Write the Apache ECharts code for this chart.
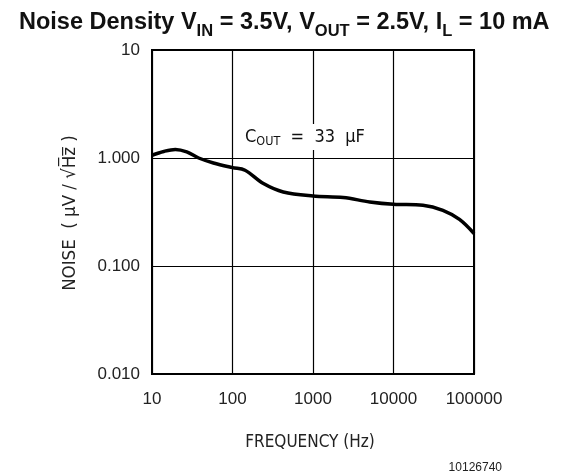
<!DOCTYPE html>
<html>
<head>
<meta charset="utf-8">
<script src="https://cdn.jsdelivr.net/npm/echarts@6/dist/echarts.min.js"></script>
<style>
html,body{margin:0;padding:0;background:#fff;}
#chart{width:566px;height:476px;}
</style>
</head>
<body>
<div id="chart"></div>
<script>
// Data
var freqHz = [10, 14, 19.5, 27, 38, 58, 100, 143, 242, 427, 1000, 2370, 5070, 10000, 23200, 41100, 66000, 100000];
var noiseDensity = [1.06, 1.15, 1.2, 1.14, 1.0, 0.90, 0.815, 0.77, 0.58, 0.485, 0.445, 0.43, 0.392, 0.373, 0.365, 0.328, 0.27, 0.2];
var xTickLabels = ['10', '100', '1000', '10000', '100000'];
var yTickLabels = {'0.01': '0.010', '0.1': '0.100', '1': '1.000', '10': '10'};

var chart = echarts.init(document.getElementById('chart'), null, {renderer: 'canvas'});
var pts = freqHz.map(function (f, i) { return [f, noiseDensity[i]]; });

var axisFont = 'Liberation Sans, Arial, sans-serif';
var nameFont = '"DejaVu Sans Condensed", "DejaVu Sans", sans-serif';

var option = {
  animation: false,
  backgroundColor: '#fff',
  title: {
    left: 14, top: 0,
    text: '{b|Noise Density V}{s|IN}{b| = 3.5V, V}{s|OUT}{b| = 2.5V, I}{s|L}{b| = 10 mA}',
    textStyle: {
      rich: {
        b: {fontSize: 23.5, fontWeight: 'bold', fontFamily: axisFont, color: '#111', lineHeight: 30, verticalAlign: 'bottom'},
        s: {fontSize: 16.5, fontWeight: 'bold', fontFamily: axisFont, color: '#111', lineHeight: 24, verticalAlign: 'bottom', padding: [0,0,-5,0]}
      }
    }
  },
  grid: {left: 152, right: 92, top: 50, bottom: 102, show: true, borderColor: '#000', borderWidth: 2, containLabel: false},
  xAxis: {
    type: 'log', logBase: 10, min: 10, max: 100000,
    axisLine: {show: false},
    axisTick: {show: false},
    minorTick: {show: false},
    splitLine: {show: true, lineStyle: {color: '#000', width: 1.2}},
    axisLabel: {
      margin: 17, fontSize: 17, color: '#222', fontFamily: axisFont,
      formatter: function (v) { var i = Math.round(Math.log10(v)) - 1; return xTickLabels[i] || ''; }
    }
  },
  yAxis: {
    type: 'log', logBase: 10, min: 0.01, max: 10,
    axisLine: {show: false},
    axisTick: {show: false},
    splitLine: {show: true, lineStyle: {color: '#000', width: 1.2}},
    axisLabel: {
      margin: 12, fontSize: 17, color: '#222', fontFamily: axisFont,
      formatter: function (v) { var k = String(Math.round(Math.log10(v))); var m = {'-2':'0.01','-1':'0.1','0':'1','1':'10'}; return yTickLabels[m[k]] || ''; }
    }
  },
  series: [{
    type: 'line', data: pts, smooth: 0.35, symbol: 'none',
    lineStyle: {color: '#000', width: 3.5}
  }],
  graphic: [
    {
      type: 'text', left: 241, top: 124, z: 100,
      style: {
        rich: {
          n: {fontSize: 18, fontFamily: nameFont, fill: '#111'},
          sub: {fontSize: 12.5, fontFamily: nameFont, fill: '#111', padding: [9,0,0,0]}
        },
        text: '{n|C}{sub|OUT}{n|  =  33  µF}',
        backgroundColor: '#fff', padding: [2, 4, 2, 4]
      }
    },
    {
      type: 'text', x: 70, y: 213, rotation: Math.PI / 2, z: 100,
      style: {text: 'NOISE  ( µV / √H\u0305z\u0305 )', fontSize: 18.5, fontFamily: nameFont, fill: '#222', align: 'center', verticalAlign: 'middle'}
    },
    {
      type: 'text', x: 310, y: 443, z: 100,
      style: {text: 'FREQUENCY (Hz)', fontSize: 17, fontFamily: nameFont, fill: '#222', align: 'center', verticalAlign: 'middle'}
    },
    {
      type: 'text', x: 502, y: 468, z: 100,
      style: {text: '10126740', fontSize: 12, fontFamily: axisFont, fill: '#222', align: 'right', verticalAlign: 'middle'}
    }
  ]
};
chart.setOption(option);
</script>
</body>
</html>
